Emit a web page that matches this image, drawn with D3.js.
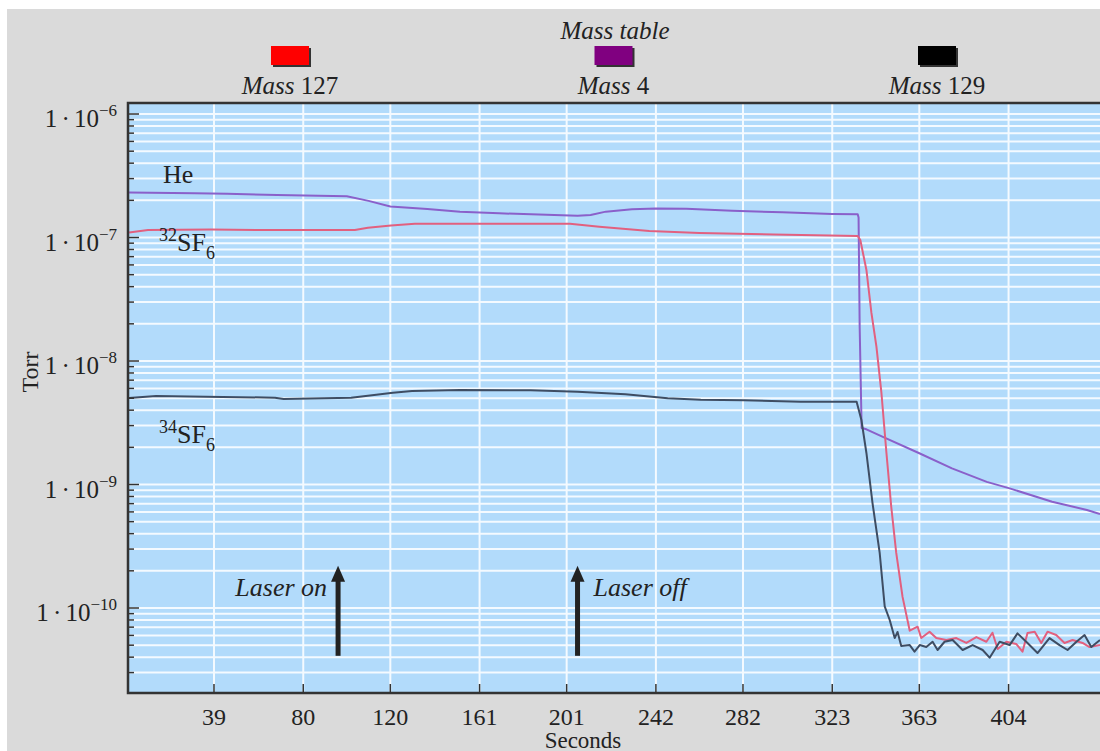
<!DOCTYPE html>
<html>
<head lang="en">
  <title>Mass table</title>
  <script src="https://d3js.org/d3.v7.min.js" charset="utf-8"></script>
  <style>
    body { margin: 0; background: #fff; }
    text { font-family: "Liberation Serif", "DejaVu Serif", serif; fill: #222; }
  </style>
</head>
<body>
  <script>

    // data: seconds and Torr
    var heT = [0, 30, 45, 68, 100, 110, 120, 137, 152, 170, 206, 212, 219, 231, 242, 256, 277, 300, 323, 334.7, 335.1, 335.6, 336.5, 338.7, 346, 363, 378, 394, 404.5, 424, 440, 446];
    var heV = [2.32e-7, 2.28e-7, 2.26e-7, 2.21e-7, 2.16e-7, 1.98e-7, 1.78e-7, 1.70e-7, 1.62e-7, 1.57e-7, 1.50e-7, 1.52e-7, 1.62e-7, 1.69e-7, 1.72e-7, 1.71e-7, 1.65e-7, 1.60e-7, 1.55e-7, 1.54e-7, 1.45e-7, 1.9e-8, 2.87e-9, 2.80e-9, 2.44e-9, 1.79e-9, 1.35e-9, 1.05e-9, 9.3e-10, 7.26e-10, 6.22e-10, 5.77e-10];

    var sf32T = [0, 8.7, 37.6, 64, 103.7, 109.7, 120.3, 131.3, 174, 202.5, 216, 239, 262, 296, 334.7, 335.9, 338.7, 341, 343.3, 345.6, 347.9, 350.1, 352.4, 355.3, 358.6, 362.2, 363.9, 367.7, 370.8, 375.4, 380, 384.6, 389.2, 393.8, 396.6, 399, 403, 407.5, 410.4, 412.7, 416, 419, 421.9, 425.9, 429.7, 433.4, 438, 441.2, 446];
    var sf32V = [1.10e-7, 1.15e-7, 1.16e-7, 1.15e-7, 1.15e-7, 1.20e-7, 1.25e-7, 1.29e-7, 1.29e-7, 1.29e-7, 1.22e-7, 1.13e-7, 1.09e-7, 1.06e-7, 1.03e-7, 9.55e-8, 5.46e-8, 2.45e-8, 1.31e-8, 5.51e-9, 1.80e-9, 6.61e-10, 2.79e-10, 1.23e-10, 6.55e-11, 7.06e-11, 5.71e-11, 6.43e-11, 5.71e-11, 5.51e-11, 5.71e-11, 5.21e-11, 5.82e-11, 5.33e-11, 6.31e-11, 4.66e-11, 5.33e-11, 5.12e-11, 4.43e-11, 6.28e-11, 6.43e-11, 5.21e-11, 6.43e-11, 6.04e-11, 5.21e-11, 5.51e-11, 5.21e-11, 4.83e-11, 5.01e-11];

    var sf34T = [0, 12.4, 67, 71, 102, 121.2, 130, 152, 184.5, 206, 228, 247.4, 262.6, 282.3, 308.5, 334.2, 336.4, 338.7, 341.5, 344.8, 347.1, 349.4, 351.7, 353, 354.7, 358.6, 360.8, 363.2, 366.2, 369.1, 371.4, 374.6, 378.3, 382.9, 387.5, 392.1, 395.3, 399.9, 404.5, 408.1, 412.7, 417.3, 422.8, 427.4, 431.1, 435.2, 438.9, 442, 446];
    var sf34V = [5.01e-9, 5.21e-9, 5.05e-9, 4.92e-9, 5.05e-9, 5.53e-9, 5.71e-9, 5.82e-9, 5.79e-9, 5.64e-9, 5.37e-9, 4.99e-9, 4.86e-9, 4.81e-9, 4.68e-9, 4.68e-9, 3.33e-9, 1.80e-9, 7.08e-10, 2.79e-10, 1.03e-10, 8.0e-11, 5.71e-11, 6.40e-11, 4.92e-11, 5.01e-11, 4.43e-11, 5.01e-11, 4.83e-11, 5.33e-11, 4.57e-11, 5.33e-11, 5.51e-11, 4.57e-11, 5.01e-11, 4.57e-11, 3.96e-11, 5.33e-11, 5.01e-11, 6.23e-11, 5.21e-11, 4.32e-11, 5.71e-11, 5.01e-11, 4.57e-11, 5.33e-11, 6.04e-11, 4.83e-11, 5.51e-11];

    var xTicks = [39, 80, 120, 161, 201, 242, 282, 323, 363, 404];
    var yDecades = [-10, -9, -8, -7, -6];

    var legendNames = ["127", "4", "129"];
    var legendColors = ["#ff0000", "#800080", "#000000"];

    var laserT = [96, 206];
    var laserNames = ["Laser on", "Laser off"];

    (function() {
    var width = 1100;
    var height = 751;
    var pl = 128, pr = 1100, pt = 103, pb = 693;

    var svg = d3.select("body")
      .append("svg")
      .attr("width", width)
      .attr("height", height);

    svg.append("rect")
      .attr("x", 7).attr("y", 9)
      .attr("width", width - 7).attr("height", height - 9)
      .attr("fill", "#dadada");

    var x = d3.scaleLinear()
      .domain([-0.5, 446])
      .range([pl, pr]);

    var y = d3.scaleLog()
      .domain([2.05e-11, 1.228e-6])
      .range([pb, pt]);

    svg.append("rect")
      .attr("x", pl).attr("y", pt)
      .attr("width", pr - pl).attr("height", pb - pt)
      .attr("fill", "#b2dbfb");

    // all log ticks inside the domain
    var logTicks = [];
    for (var d = -11; d <= -6; d++) {
      for (var m = 1; m <= 9; m++) {
        var v = m * Math.pow(10, d);
        if (v >= y.domain()[0] && v <= y.domain()[1]) logTicks.push({ v: v, major: m == 1 });
      }
    }

    var grid = svg.append("g").attr("class", "grid");
    grid.selectAll("line.h")
      .data(logTicks)
      .enter().append("line")
        .attr("class", "h")
        .attr("x1", pl).attr("x2", pr)
        .attr("y1", function(d) { return y(d.v); })
        .attr("y2", function(d) { return y(d.v); })
        .attr("stroke", "#f4faff")
        .attr("stroke-width", 2);

    grid.selectAll("line.v")
      .data(xTicks)
      .enter().append("line")
        .attr("class", "v")
        .attr("y1", pt).attr("y2", pb)
        .attr("x1", function(d) { return x(d); })
        .attr("x2", function(d) { return x(d); })
        .attr("stroke", "#f4faff")
        .attr("stroke-width", 2);

    // series
    var series = [
      { t: heT, v: heV, color: "#8a60ca" },
      { t: sf32T, v: sf32V, color: "#e2607f" },
      { t: sf34T, v: sf34V, color: "#3e4d63" }
    ];

    var line = d3.line()
      .x(function(d) { return x(d[0]); })
      .y(function(d) { return y(d[1]); });

    svg.append("g")
      .selectAll("path")
      .data(series)
      .enter().append("path")
        .attr("d", function(s) { return line(s.t.map(function(t, i) { return [t, s.v[i]]; })); })
        .attr("fill", "none")
        .attr("stroke", function(s) { return s.color; })
        .attr("stroke-width", 2)
        .attr("stroke-linejoin", "round");

    // ticks pointing inward
    svg.append("g")
      .selectAll("line")
      .data(logTicks)
      .enter().append("line")
        .attr("x1", pl)
        .attr("x2", function(d) { return pl + (d.major ? 11 : 6); })
        .attr("y1", function(d) { return y(d.v); })
        .attr("y2", function(d) { return y(d.v); })
        .attr("stroke", "#333")
        .attr("stroke-width", 1.5);

    svg.append("g")
      .selectAll("line")
      .data(xTicks)
      .enter().append("line")
        .attr("x1", function(d) { return x(d); })
        .attr("x2", function(d) { return x(d); })
        .attr("y1", pb)
        .attr("y2", pb - 9)
        .attr("stroke", "#333")
        .attr("stroke-width", 1.5);

    // frame
    svg.append("path")
      .attr("d", "M" + pr + "," + pt + "H" + pl + "V" + pb + "H" + pr)
      .attr("fill", "none")
      .attr("stroke", "#333")
      .attr("stroke-width", 2.5);

    // tick labels
    var yl = svg.append("g")
      .selectAll("text")
      .data(yDecades)
      .enter().append("text")
        .attr("x", 117)
        .attr("y", function(d) { return y(Math.pow(10, d)) + 13; })
        .attr("text-anchor", "end")
        .attr("font-size", "25px");
    yl.append("tspan").text("1\u2006\u00b7\u200610");
    yl.append("tspan")
      .attr("dy", -11)
      .attr("font-size", "17px")
      .text(function(d) { return "\u2212" + (-d); });

    svg.append("g")
      .selectAll("text")
      .data(xTicks)
      .enter().append("text")
        .attr("x", function(d) { return x(d); })
        .attr("y", 725)
        .attr("text-anchor", "middle")
        .attr("font-size", "24px")
        .text(function(d) { return d; });

    svg.append("text")
      .attr("x", 583).attr("y", 748)
      .attr("text-anchor", "middle")
      .attr("font-size", "23px")
      .text("Seconds");

    svg.append("text")
      .attr("transform", "translate(38,372) rotate(-90)")
      .attr("text-anchor", "middle")
      .attr("font-size", "24px")
      .text("Torr");

    // legend
    svg.append("text")
      .attr("x", 615).attr("y", 39)
      .attr("text-anchor", "middle")
      .attr("font-size", "25px")
      .attr("font-style", "italic")
      .text("Mass table");

    var lx = d3.scalePoint()
      .domain(legendNames)
      .range([290, 937]);

    var lg = svg.append("g")
      .selectAll("g")
      .data(legendNames)
      .enter().append("g")
        .attr("transform", function(d) { return "translate(" + lx(d) + ",0)"; });
    lg.append("rect")
      .attr("x", -17).attr("y", 48)
      .attr("width", 38).attr("height", 19)
      .attr("fill", "#333");
    lg.append("rect")
      .attr("x", -19).attr("y", 46)
      .attr("width", 38).attr("height", 19)
      .attr("fill", function(d, i) { return legendColors[i]; });
    var lt = lg.append("text")
      .attr("y", 94)
      .attr("text-anchor", "middle")
      .attr("font-size", "25px");
    lt.append("tspan").attr("font-style", "italic").text("Mass");
    lt.append("tspan").text(function(d) { return " " + d; });

    // series labels
    svg.append("text")
      .attr("x", 163).attr("y", 183)
      .attr("font-size", "26px")
      .text("He");

    function sfLabel(ypos, iso) {
      var t = svg.append("text")
        .attr("x", 159).attr("y", ypos)
        .attr("font-size", "26px");
      t.append("tspan").attr("font-size", "18px").attr("dy", -10).text(iso);
      t.append("tspan").attr("dy", 10).text("SF");
      t.append("tspan").attr("font-size", "18px").attr("dy", 8).text("6");
    }
    sfLabel(251, "32");
    sfLabel(443, "34");

    // laser arrows
    var arrows = svg.append("g")
      .selectAll("g")
      .data(laserT)
      .enter().append("g")
        .attr("transform", function(d) { return "translate(" + x(d) + ",0)"; });
    arrows.append("line")
      .attr("x1", 0).attr("x2", 0)
      .attr("y1", y(4.1e-11)).attr("y2", y(1.7e-10))
      .attr("stroke", "#222")
      .attr("stroke-width", 5);
    arrows.append("path")
      .attr("d", "M0," + y(2.2e-10) + "l-7,16h14z")
      .attr("fill", "#222");
    arrows.append("text")
      .attr("x", function(d, i) { return i == 0 ? -11 : 16; })
      .attr("y", y(1.2e-10) - 2)
      .attr("text-anchor", function(d, i) { return i == 0 ? "end" : "start"; })
      .attr("font-size", "26px")
      .attr("font-style", "italic")
      .text(function(d, i) { return laserNames[i]; });
    })();

  </script>
</body>
</html>
